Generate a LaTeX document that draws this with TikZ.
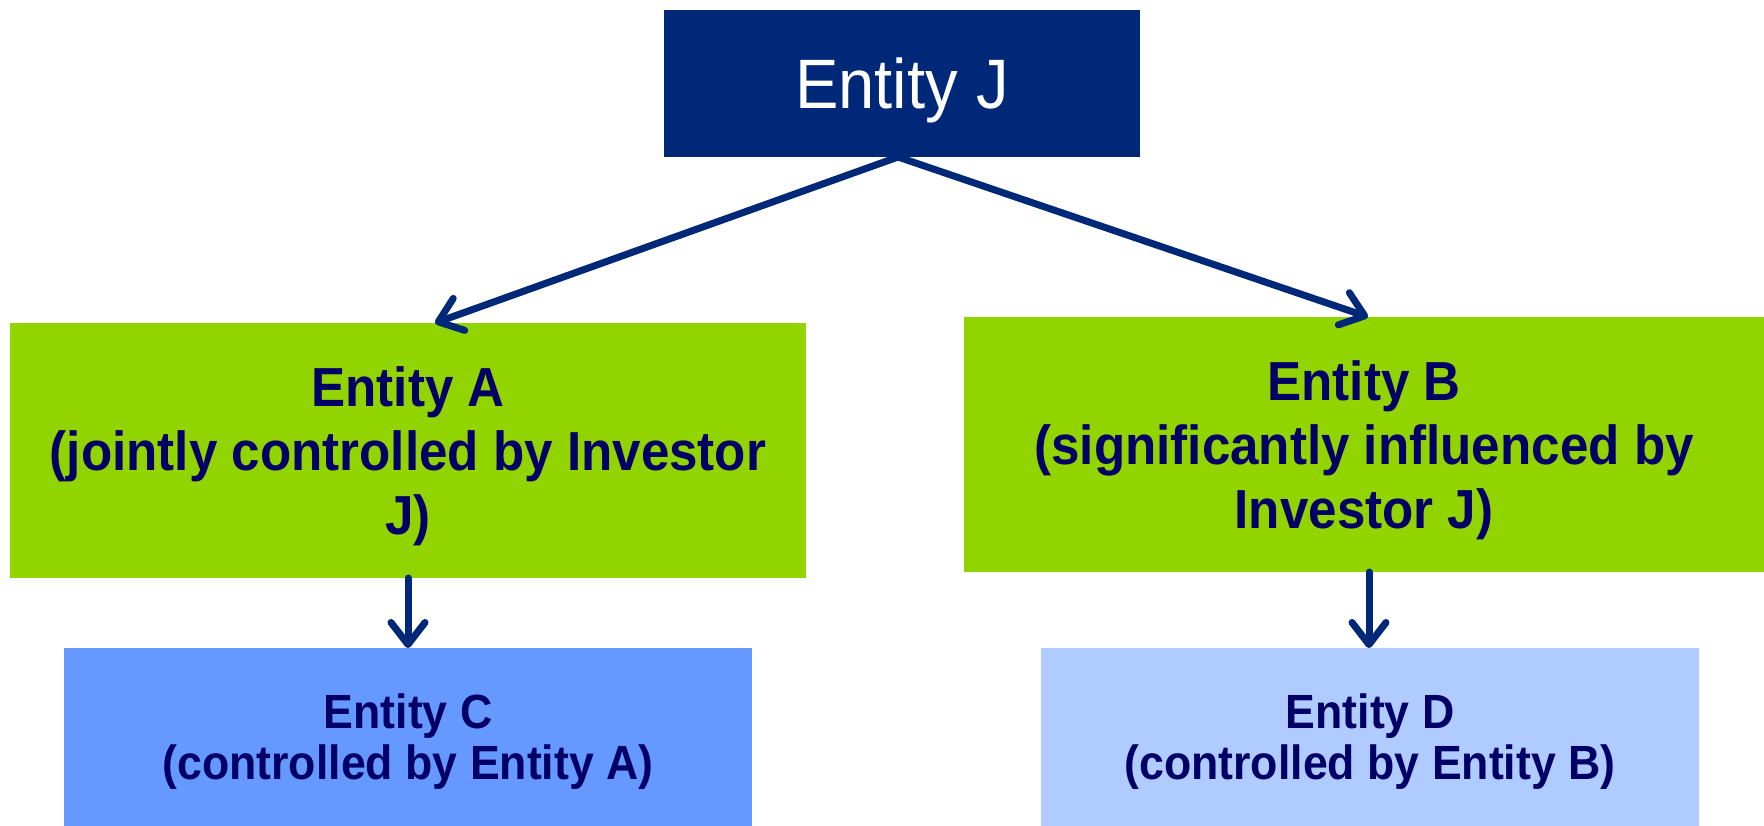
\documentclass[tikz,border=0pt]{standalone}
\usepackage{fontspec}
\setmainfont{Liberation Sans}
\newfontfamily\narrowsans[FakeStretch=0.93]{Liberation Sans}
\usetikzlibrary{arrows.meta}
\definecolor{navy}{RGB}{0,40,120}
\definecolor{textnavy}{RGB}{0,0,102}
\definecolor{lime}{RGB}{146,212,0}
\definecolor{bluemid}{RGB}{102,153,255}
\definecolor{bluelight}{RGB}{176,203,255}
\begin{document}
\begin{tikzpicture}[x=1pt,y=-1pt,
  box/.style={rectangle, inner sep=0pt, outer sep=0pt, align=center, text=textnavy},
  bigtext/.style={font=\narrowsans\bfseries\fontsize{55}{64}\selectfont, text depth=-5pt},
  smalltext/.style={font=\narrowsans\bfseries\fontsize{48}{51}\selectfont, text depth=-6pt},
  link/.style={draw=navy, line width=7pt, line cap=round,
    -{Straight Barb[length=22pt,width=34pt,line cap=round,line join=round]}}]
\useasboundingbox (0,0) rectangle (1764,826);

% top entity
\node[box, fill=navy, text=white, font=\narrowsans\fontsize{70}{80}\selectfont,
      text depth=0pt, minimum width=476pt, minimum height=147pt] (J) at (902,83.5) {Entity J};

% second level
\node[box, bigtext, fill=lime, minimum width=796pt, minimum height=255pt] (A) at (408,450.5)
  {Entity A\\(jointly controlled by Investor\\J)};
\node[box, bigtext, fill=lime, minimum width=800pt, minimum height=255pt] (B) at (1364,444.5)
  {Entity B\\(significantly influenced by\\Investor J)};

% third level
\node[box, smalltext, fill=bluemid, minimum width=688pt, minimum height=178pt] (C) at (408,737)
  {Entity C\\(controlled by Entity A)};
\node[box, smalltext, fill=bluelight, minimum width=658pt, minimum height=178pt] (D) at (1370,737)
  {Entity D\\(controlled by Entity B)};

% connectors
\draw[link] ([xshift=-4pt]J.south) -- ([xshift=27pt]A.north);
\draw[link] ([xshift=-4pt]J.south) -- ([xshift=4pt]B.north);
\draw[link] (A.south) -- (C.north);
\draw[link] ([xshift=5pt]B.south) -- ([xshift=-1pt]D.north);
\end{tikzpicture}
\end{document}
